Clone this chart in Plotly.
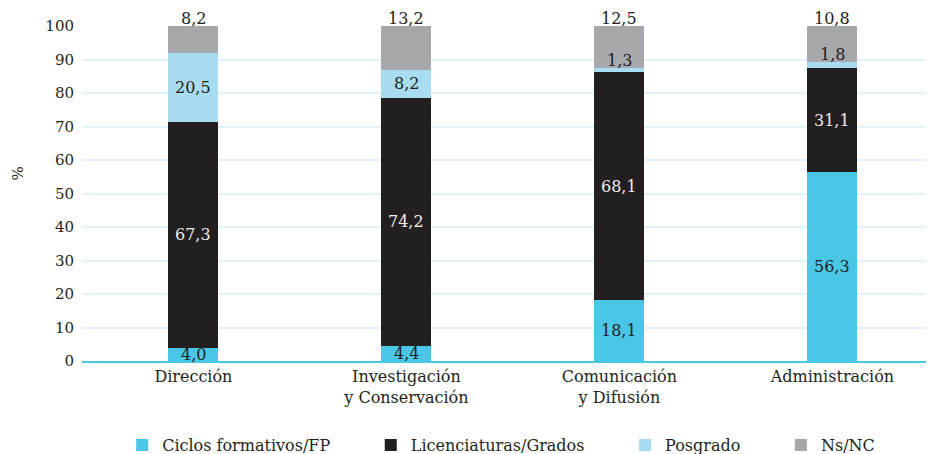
import numpy as np
import plotly.graph_objects as go

categories = ["Dirección", "Investigación<br>y Conservación", "Comunicación<br>y Difusión", "Administración"]
series_names = ["Ciclos formativos/FP", "Licenciaturas/Grados", "Posgrado", "Ns/NC"]
ciclos = [4.0, 4.4, 18.1, 56.3]
licenciaturas = [67.3, 74.2, 68.1, 31.1]
posgrado = [20.5, 8.2, 1.3, 1.8]
nsnc = [8.2, 13.2, 12.5, 10.8]
y_ticks = list(range(0, 101, 10))

series_values = [ciclos, licenciaturas, posgrado, nsnc]
colors = ["#4AC6E6", "#231F20", "#A8DDF1", "#A7A8AC"]
label_colors = ["#231F20", "#EDEDED", "#231F20", "#231F20"]
FONT = "DejaVu Serif"
pad = "\u00a0" * 7

fig = go.Figure()
for i, (name, vals) in enumerate(zip(series_names, series_values)):
    fig.add_trace(go.Bar(
        x=categories, y=vals, name=name + (pad if i < 3 else ""),
        marker=dict(color=colors[i], line=dict(width=0)),
        hoverinfo="skip",
    ))

base = np.zeros(len(categories))
annotations = []
for i, vals in enumerate(series_values):
    vals = np.array(vals)
    top = np.round(base + vals, 6)
    for j, cat in enumerate(categories):
        txt = f"{vals[j]:.1f}".replace(".", ",")
        if i == 3 or (i == 2 and vals[j] < 5):
            y, anchor, ys = min(top[j], 100.0), "bottom", -4
        else:
            y, anchor, ys = base[j] + vals[j] / 2, "middle", 0
        annotations.append(dict(
            x=cat, y=y, xref="x", yref="y", text=txt, showarrow=False,
            yanchor=anchor, yshift=ys,
            font=dict(family=FONT, size=16, color=label_colors[i]),
        ))
    base = top

annotations.append(dict(
    x=-0.075, y=0.56, xref="paper", yref="paper", text="%", showarrow=False,
    xanchor="center", yanchor="middle",
    textangle=-90, font=dict(family=FONT, size=15, color="#231F20"),
))

fig.update_layout(
    barmode="stack",
    width=926, height=446,
    margin=dict(l=74, r=0, t=18, b=93, autoexpand=False),
    paper_bgcolor="white", plot_bgcolor="white",
    font=dict(family=FONT, size=16, color="#231F20"),
    bargap=0.765,
    showlegend=True,
    legend=dict(orientation="h", x=0.492, xanchor="center", y=-0.2, yanchor="top",
                font=dict(family=FONT, size=16, color="#231F20"), traceorder="normal"),
    annotations=annotations,
    xaxis=dict(range=[-0.523, 3.477], showgrid=False, showline=True,
               linecolor="#4AC6E6", linewidth=1.5, ticks="", tickfont=dict(size=16)),
    yaxis=dict(range=[0, 100], tickvals=y_ticks, showgrid=True, gridcolor="#E0F2FA",
               gridwidth=1.5, zeroline=False, ticks="", ticklabelstandoff=7,
               tickfont=dict(size=15)),
)

fig.write_html("out.html")
